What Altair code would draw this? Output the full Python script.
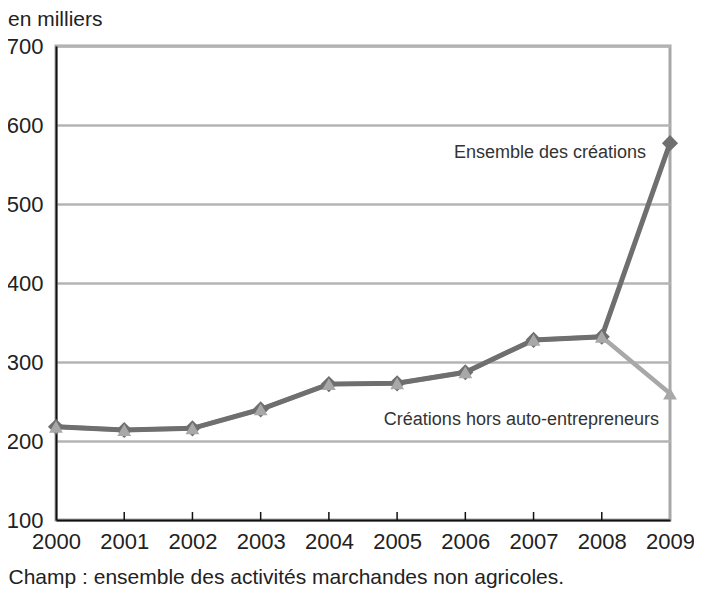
import altair as alt
import pandas as pd

years = [2000, 2001, 2002, 2003, 2004, 2005, 2006, 2007, 2008, 2009]
ensemble = [218, 214, 216, 240, 272, 273, 287, 328, 332, 577]
hors_ae = [218, 214, 216, 240, 272, 273, 287, 328, 332, 260]
series_names = ["Ensemble des créations", "Créations hors auto-entrepreneurs"]
label_values = [565, 226]
y_ticks = [100, 200, 300, 400, 500, 600, 700]

df_ens = pd.DataFrame({"annee": years, "valeur": ensemble})
df_hors = pd.DataFrame({"annee": years, "valeur": hors_ae})
df_lab_ens = pd.DataFrame({"annee": [2009], "valeur": [label_values[0]], "texte": [series_names[0]]})
df_lab_hors = pd.DataFrame({"annee": [2009], "valeur": [label_values[1]], "texte": [series_names[1]]})
df_ticks = pd.DataFrame({"annee": years[1:-1]})

FONT = "Liberation Sans, Arial, sans-serif"
W, H = 614, 474

x_enc = alt.X("annee:Q",
              scale=alt.Scale(domain=[2000, 2009], nice=False, zero=False),
              axis=alt.Axis(values=years, format="d", tickSize=0, labelPadding=11,
                            labelFontSize=22, labelColor="#222", labelFont=FONT,
                            domainColor="#111", domainWidth=2, grid=False,
                            title="Champ : ensemble des activités marchandes non agricoles.",
                            titleFont=FONT,
                            titleFontSize=21, titleFontWeight="normal", titleColor="#222",
                            titleAnchor="start", titleAlign="left",
                            titleX=-48, titleY=63, titleBaseline="alphabetic",
                            labelFlush=False))
y_enc = alt.Y("valeur:Q",
              scale=alt.Scale(domain=[100, 700], nice=False, zero=False),
              axis=alt.Axis(values=y_ticks, tickSize=0, labelPadding=13,
                            labelFontSize=22, labelColor="#222", labelFont=FONT,
                            domainColor="#111", domainWidth=2,
                            gridColor="#b4b4b4", gridWidth=2.5, title=None))

line_hors = alt.Chart(df_hors).mark_line(color="#a8a8a8", strokeWidth=4.5).encode(x=x_enc, y=y_enc)
line_ens = alt.Chart(df_ens).mark_line(color="#6f6f6f", strokeWidth=5).encode(x=x_enc, y=y_enc)
pts_ens = alt.Chart(df_ens).mark_point(shape="diamond", filled=True, size=260,
                                       color="#6f6f6f", opacity=1).encode(x=x_enc, y=y_enc)
pts_hors = alt.Chart(df_hors).mark_point(shape="triangle-up", filled=True, size=190,
                                         color="#a8a8a8", opacity=1).encode(x=x_enc, y=y_enc)
ticks = alt.Chart(df_ticks).mark_rule(color="#111", strokeWidth=1.5).encode(
    x=x_enc, y=alt.value(H), y2=alt.value(H - 8))
lab_ens = alt.Chart(df_lab_ens).mark_text(align="right", baseline="middle", dx=-24,
                                          fontSize=18, font=FONT, color="#333").encode(
    x=x_enc, y=y_enc, text="texte:N")
lab_hors = alt.Chart(df_lab_hors).mark_text(align="right", baseline="middle", dx=-11,
                                            fontSize=18, font=FONT, color="#333").encode(
    x=x_enc, y=y_enc, text="texte:N")

chart = alt.layer(line_hors, line_ens, pts_ens, pts_hors, ticks, lab_ens, lab_hors).properties(
    width=W, height=H,
    background="white",
    autosize=alt.AutoSizeParams(type="none"),
    padding={"left": 48, "top": 38, "right": 24, "bottom": 68},
    title=alt.TitleParams("en milliers", anchor="start", frame="group", dx=-48,
                          fontSize=21, font=FONT, fontWeight="normal", color="#222",
                          offset=5),
).configure_view(stroke="#a8a8a8", strokeWidth=3)

chart.save("out.html", embed_options={"renderer": "svg", "actions": False})
